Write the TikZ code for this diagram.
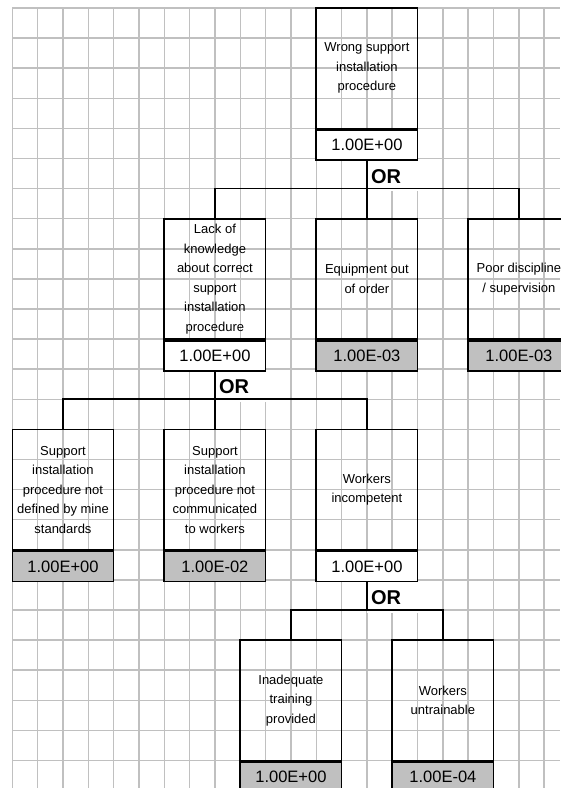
\documentclass[tikz,border=0pt]{standalone}
\usepackage{fontspec}
\setmainfont{Liberation Sans}
\definecolor{gridgray}{RGB}{192,192,192}
\definecolor{basicgray}{RGB}{192,192,192}
\tikzset{
    event/.style={draw=black, line width=1.6pt, minimum width=101.3pt, minimum height=120.4pt, inner sep=0pt, align=center, font=\fontsize{13}{19.5}\selectfont},
    prob/.style={draw=black, line width=1.6pt, fill=white, minimum width=101.3pt, minimum height=30.1pt, inner sep=0pt, anchor=north, font=\fontsize{16.5}{18}\selectfont},
    basic/.style={prob, fill=basicgray},
    gate/.style={fill=white, anchor=north west, minimum height=30.1pt, text width=43pt, inner xsep=4pt, inner ysep=0pt, align=left, font=\bfseries\fontsize{20}{22}\selectfont},
    link/.style={draw=black, line width=1.6pt},
    gridline/.style={draw=gridgray, line width=1.5pt}
}
\begin{document}
\begin{tikzpicture}[x=25.33pt, y=-30.1pt]
        \useasboundingbox (-0.4856,-0.2658) rectangle (21.623,25.914);
        %paper grid
        \foreach \c in {0,...,21} \draw[gridline] (\c,0) -- (\c,25.914);
        \foreach \r in {0,...,25} \draw[gridline] (0,\r) -- (21.623,\r);

            %Top event
            \node[event] (wrong) at (14,2) {Wrong support\\installation\\procedure};
            \node[prob] (pWrong) at (wrong.south) {1.00E+00};
            \node[gate] (orWrong) at (pWrong.south) {OR};

            %Level 1
            \node[event] (lack) at (8,9) {Lack of\\knowledge\\about correct\\support\\installation\\procedure};
            \node[prob] (pLack) at (lack.south) {1.00E+00};
            \node[gate] (orLack) at (pLack.south) {OR};
            \node[event] (equip) at (14,9) {Equipment out\\of order};
            \node[basic] (pEquip) at (equip.south) {1.00E-03};
            \node[event] (disc) at (20,9) {Poor discipline\\/ supervision};
            \node[basic] (pDisc) at (disc.south) {1.00E-03};

            %Level 2
            \node[event] (notdef) at (2,16) {Support\\installation\\procedure not\\defined by mine\\standards};
            \node[basic] (pNotdef) at (notdef.south) {1.00E+00};
            \node[event] (notcom) at (8,16) {Support\\installation\\procedure not\\communicated\\to workers};
            \node[basic] (pNotcom) at (notcom.south) {1.00E-02};
            \node[event] (incomp) at (14,16) {Workers\\incompetent};
            \node[prob] (pIncomp) at (incomp.south) {1.00E+00};
            \node[gate] (orIncomp) at (pIncomp.south) {OR};

            %Level 3
            \node[event] (training) at (11,23) {Inadequate\\training\\provided};
            \node[basic] (pTraining) at (training.south) {1.00E+00};
            \node[event] (untrain) at (17,23) {Workers\\untrainable};
            \node[basic] (pUntrain) at (untrain.south) {1.00E-04};

            %OR branches
            \coordinate (jWrong) at (14,6);
            \draw[link] (pWrong.south) -- (jWrong);
            \draw[link] (jWrong) -| (lack.north);
            \draw[link] (jWrong) -- (equip.north);
            \draw[link] (jWrong) -| (disc.north);

            \coordinate (jLack) at (8,13);
            \draw[link] (pLack.south) -- (jLack);
            \draw[link] (jLack) -| (notdef.north);
            \draw[link] (jLack) -- (notcom.north);
            \draw[link] (jLack) -| (incomp.north);

            \coordinate (jIncomp) at (14,20);
            \draw[link] (pIncomp.south) -- (jIncomp);
            \draw[link] (jIncomp) -| (training.north);
            \draw[link] (jIncomp) -| (untrain.north);
        \end{tikzpicture}
\end{document}
